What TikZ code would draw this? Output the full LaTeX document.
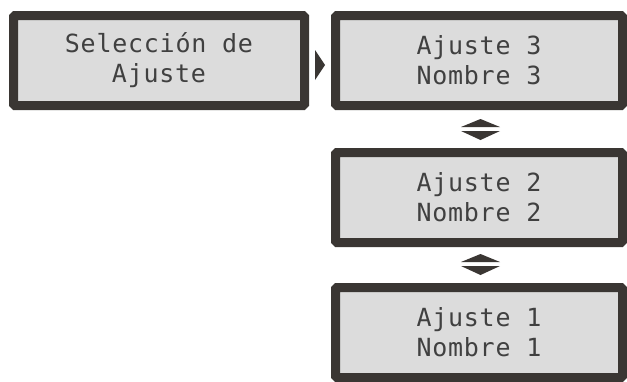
\documentclass[tikz,border=0pt]{standalone}
\usepackage{fontspec}
\newfontfamily\lcdfont[LetterSpace=3]{DejaVu Sans Mono}
\definecolor{lcdframe}{HTML}{3A3633}
\definecolor{lcdback}{HTML}{DCDCDC}
\definecolor{lcdtext}{HTML}{404040}

\begin{document}
\begin{tikzpicture}[
	x=1pt,
	y=-1pt,
	lcd/.style={draw=lcdframe,fill=lcdback,line width=9pt,rounded corners=1.5pt,
		minimum width=287pt,minimum height=90pt,inner sep=0pt,align=center,
		text=lcdtext,font=\lcdfont\fontsize{25pt}{30pt}\selectfont},
	tri/.style={fill=lcdframe}
	]
	\useasboundingbox (0,0) rectangle (627,381);
	\node[lcd,minimum width=291pt] (sel) at (159,60.5) {Selección de\\Ajuste};
	\node[lcd] (aj3) at (479,60.5) {Ajuste 3\\Nombre 3};
	\node[lcd] (aj2) at (479,197.5) {Ajuste 2\\Nombre 2};
	\node[lcd] (aj1) at (479,332.5) {Ajuste 1\\Nombre 1};
	% flecha de entrada
	\fill[tri] (315,50) -- (325,65) -- (315,80) -- cycle;
	% flechas arriba / abajo
	\foreach \y in {119,254} {
		\fill[tri] (461,\y+8) -- (480.5,\y) -- (500,\y+8) -- cycle;
		\fill[tri] (461,\y+12) -- (500,\y+12) -- (480.5,\y+21) -- cycle;
	}
\end{tikzpicture}
\end{document}
